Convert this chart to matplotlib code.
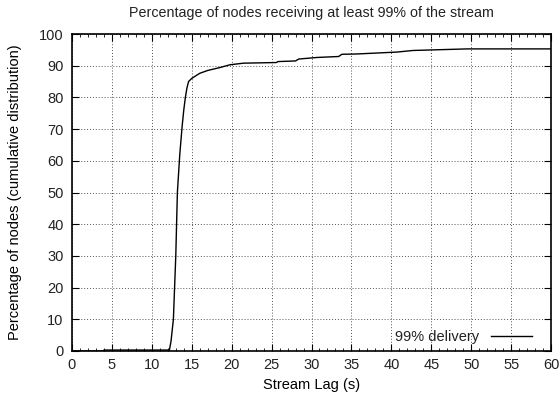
import numpy as np
import matplotlib
matplotlib.use("Agg")
import matplotlib.pyplot as plt
from matplotlib.ticker import MultipleLocator

plt.rcParams['font.family'] = ['Liberation Sans', 'DejaVu Sans']
plt.rcParams['text.color'] = '#222222'

# stream lag (s) vs cumulative percentage of nodes
lag = [0, 3.9, 4.0, 12.2, 12.4, 12.7, 13.0, 13.2, 13.5, 13.8, 14.0, 14.2, 14.4,
       14.6, 15.0, 15.5, 16.0, 17.0, 18.5, 19.8, 21.5, 25.6, 25.8, 28.0, 28.4,
       30.7, 33.4, 33.8, 35.7, 40.7, 42.7, 49.5, 60]
pct = [0, 0, 0.3, 0.3, 3, 10, 30, 50, 62, 71, 76, 80, 83,
       85, 86, 86.8, 87.6, 88.5, 89.4, 90.3, 90.8, 91.0, 91.3, 91.5, 92.1,
       92.6, 92.9, 93.6, 93.7, 94.3, 94.8, 95.3, 95.3]

xticks = list(range(0, 61, 5))
yticks = list(range(0, 101, 10))

fig = plt.figure(figsize=(5.6, 3.97), dpi=100)
ax = fig.add_axes([72 / 560, 46 / 397, 479 / 560, 317 / 397])

ax.plot(lag, pct, color='black', lw=1.0, label='99% delivery')

ax.set_xlim(0, 60)
ax.set_ylim(0, 100)
ax.set_xticks(xticks)
ax.set_yticks(yticks)
ax.xaxis.set_minor_locator(MultipleLocator(1))
ax.tick_params(which='both', direction='in', top=True, right=True,
               labelsize=10.5, labelcolor='#222222')
ax.tick_params(which='major', length=5, width=0.8)
ax.tick_params(which='minor', length=2.5, width=0.6)
ax.tick_params(axis='x', pad=5)
ax.tick_params(axis='y', pad=6)
ax.grid(True, which='major', ls=(0, (1, 2)), color='#555555', lw=0.7)
for s in ax.spines.values():
    s.set_linewidth(1.2)

ax.set_title('Percentage of nodes receiving at least 99% of the stream',
             fontsize=10.3, pad=12)
ax.set_xlabel('Stream Lag (s)', fontsize=10.5, labelpad=4)
ax.set_ylabel('Percentage of nodes (cumulative distribution)', fontsize=10.5, labelpad=12)

leg = ax.legend(loc='lower right', frameon=False, fontsize=10.5, markerfirst=False,
                handlelength=2.8, borderaxespad=0.1, handletextpad=0.8,
                bbox_to_anchor=(0.975, 0.0))

fig.savefig('out.png', dpi=100)
